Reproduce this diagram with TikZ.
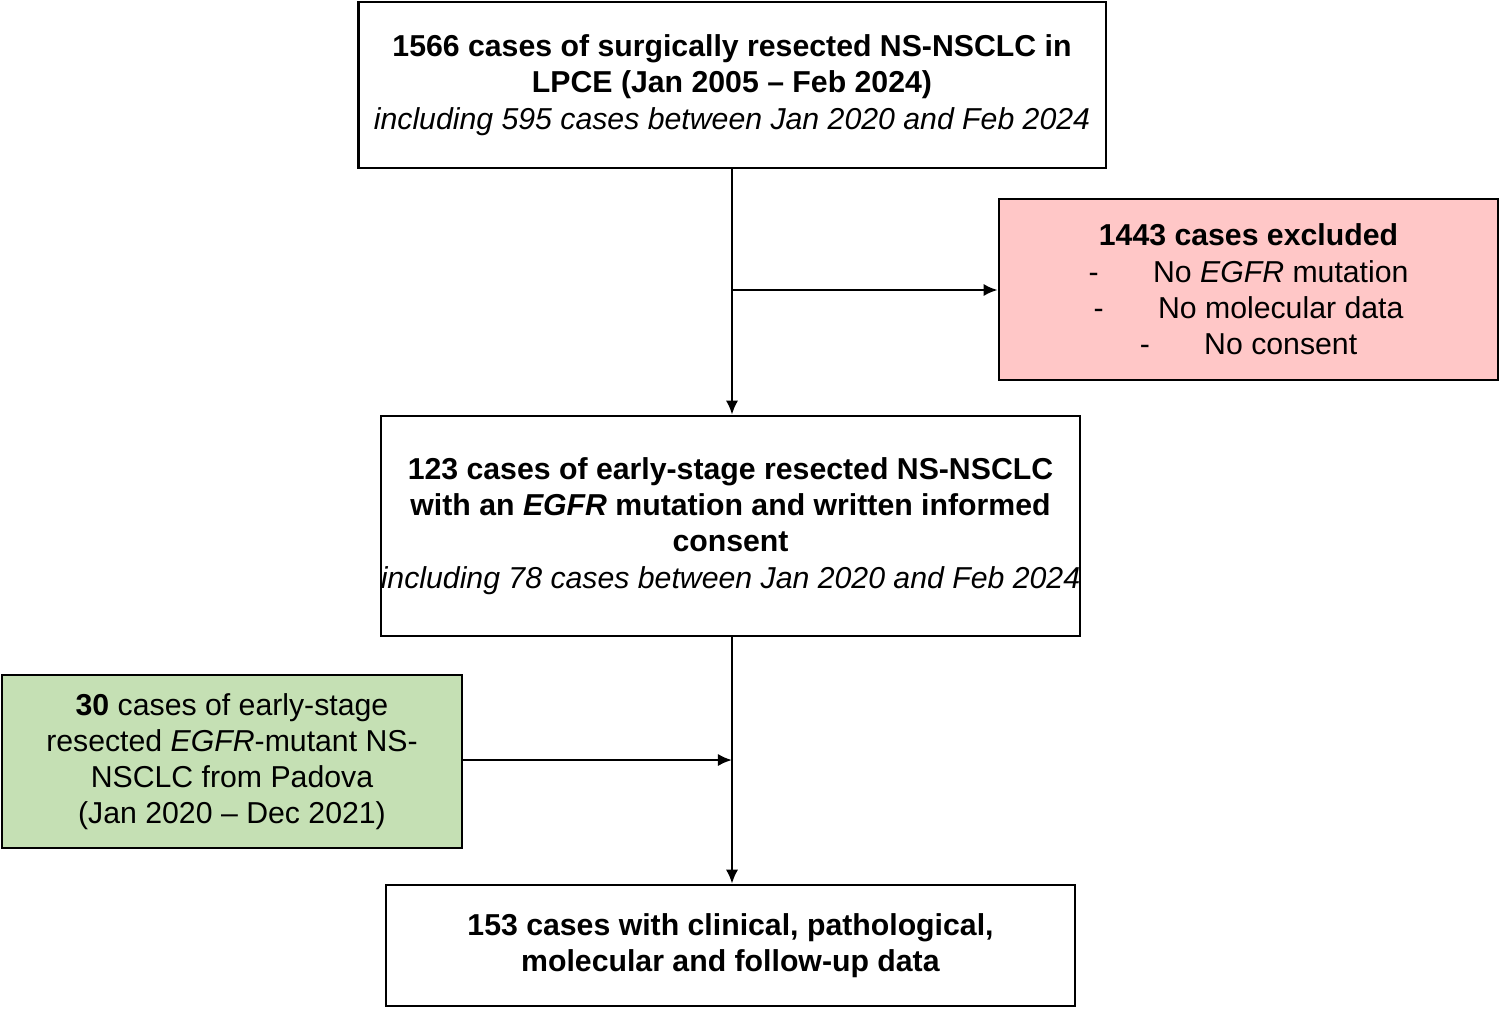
\documentclass[tikz,border=0pt]{standalone}
\usepackage{fontspec}
\setmainfont{Liberation Sans}
\usetikzlibrary{positioning,arrows.meta}
\definecolor{exclred}{RGB}{255,199,199}
\definecolor{padgreen}{RGB}{197,224,180}

\begin{document}
\begin{tikzpicture}[x=0.01cm,y=-0.01cm,
  every node/.style={font=\fontsize{8.6pt}{10.3pt}\selectfont},
  flowbox/.style={draw=black,line width=0.7pt,align=center,inner sep=0pt},
  flowarrow/.style={line width=0.7pt,-{Latex[length=4pt,width=3.5pt]}}]
\useasboundingbox (0,0) rectangle (1500,1008);
			%main column
			\node [flowbox,minimum width=7.47cm,minimum height=1.66cm] (start) at (732,85)
			  {\textbf{1566 cases of surgically resected NS-NSCLC in}\\\textbf{LPCE (Jan 2005 -- Feb 2024)}\\\textit{including 595 cases between Jan 2020 and Feb 2024}};
			\node [flowbox,minimum width=6.89cm,minimum height=2.2cm] (egfr) at (730.5,526)
			  {\textbf{123 cases of early-stage resected NS-NSCLC}\\\textbf{with an \textit{EGFR} mutation and written informed}\\\textbf{consent}\\\textit{including 78 cases between Jan 2020 and Feb 2024}};
			\node [flowbox,minimum width=6.89cm,minimum height=1.21cm] (final) at (730.5,945.5)
			  {\textbf{153 cases with clinical, pathological,}\\\textbf{molecular and follow-up data}};

			%side boxes
			\node [flowbox,fill=exclred,minimum width=4.99cm,minimum height=1.81cm] (excl) at (1248.5,289.5)
			  {\textbf{1443 cases excluded}\\-\hspace{1.8em}No \textit{EGFR} mutation\\-\hspace{1.8em}No molecular data\\-\hspace{1.8em}No consent};
			\node [flowbox,fill=padgreen,minimum width=4.6cm,minimum height=1.73cm] (padova) at (232,761.5)
			  {\textbf{30} cases of early-stage\\resected \textit{EGFR}-mutant NS-\\NSCLC from Padova\\(Jan 2020 -- Dec 2021)};

			%edges
			\coordinate (split) at (732,290);
			\coordinate (merge) at (732,760);
			\draw [flowarrow] (start.south -| split) -- (egfr.north -| split);
			\draw [flowarrow] (split) -- (excl.west |- split);
			\draw [flowarrow] (egfr.south -| merge) -- (final.north -| merge);
			\draw [flowarrow] (padova.east |- merge) -- (merge);
		\end{tikzpicture}
\end{document}
